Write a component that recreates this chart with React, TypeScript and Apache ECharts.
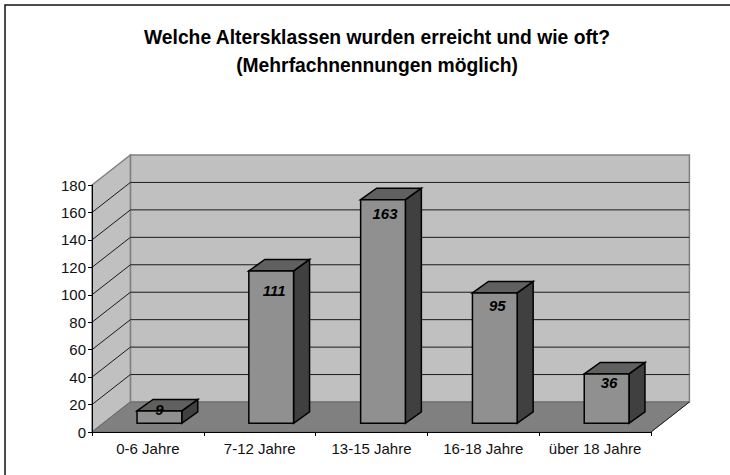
import React, { useEffect, useRef } from "react";
import * as echarts from "echarts";

const categories = ["0-6 Jahre", "7-12 Jahre", "13-15 Jahre", "16-18 Jahre", "über 18 Jahre"];
const values = [9, 111, 163, 95, 36];
const yTicks = [20, 40, 60, 80, 100, 120, 140, 160];
const titleText = "Welche Altersklassen wurden erreicht und wie oft?\n(Mehrfachnennungen möglich)";
const labelDrop = [-1, 20, 14, 13, 9];
const labelShift = [0, 3, 2, 2.5, 2.5];

const DEPTH_X = 38.4;
const DEPTH_Y = 30;
const FONT = '"Liberation Sans", Arial, sans-serif';

function polygon(points: number[][], fill: string, stroke: string, lineWidth: number) {
  return { type: "polygon", shape: { points }, style: { fill, stroke, lineWidth, lineJoin: "miter" } };
}

export default function App() {
  const ref = useRef<HTMLDivElement>(null);
  useEffect(() => {
    const chart = echarts.init(ref.current!, undefined, { renderer: "svg", width: 730, height: 475 });
    chart.setOption({
      animation: false,
      backgroundColor: "#ffffff",
      title: {
        text: titleText,
        left: 372,
        top: 18,
        textAlign: "center",
        textStyle: { fontFamily: FONT, fontSize: 19.3, fontWeight: "bold", color: "#000", lineHeight: 28 },
      },
      graphic: [
        {
          type: "polyline",
          z: 0,
          shape: { points: [[5, 475], [5, 5], [730, 5]] },
          style: { fill: "none", stroke: "#111", lineWidth: 1.5 },
        },
      ],
      grid: { left: 92, top: 185, width: 559, height: 247 },
      xAxis: {
        type: "category",
        data: categories,
        z: 10,
        axisLine: { lineStyle: { color: "#000", width: 1 } },
        axisTick: { show: true, length: 4, alignWithLabel: false, lineStyle: { color: "#000" } },
        axisLabel: { fontFamily: FONT, fontSize: 15, color: "#111", margin: 9, interval: 0 },
      },
      yAxis: {
        type: "value",
        min: 0,
        max: 180,
        interval: 20,
        z: 10,
        splitLine: { show: false },
        axisLine: { show: true, lineStyle: { color: "#000", width: 1 } },
        axisTick: { show: true, length: 4, lineStyle: { color: "#000" } },
        axisLabel: { fontFamily: FONT, fontSize: 15, color: "#111", margin: 6 },
      },
      series: [
        {
          type: "custom",
          z: 2,
          silent: true,
          data: [0],
          renderItem: (params: any) => {
            const { x, y, width, height } = params.coordSys;
            const b = y + height;
            const r = x + width;
            return {
              type: "group",
              children: [
                polygon([[x + DEPTH_X, y - DEPTH_Y], [r + DEPTH_X, y - DEPTH_Y], [r + DEPTH_X, b - DEPTH_Y], [x + DEPTH_X, b - DEPTH_Y]], "#c0c0c0", "#808080", 1.5),
                polygon([[x, y], [x + DEPTH_X, y - DEPTH_Y], [x + DEPTH_X, b - DEPTH_Y], [x, b]], "#c0c0c0", "#808080", 1.5),
              ],
            };
          },
        },
        {
          type: "custom",
          z: 3,
          silent: true,
          data: yTicks.map((t) => [0, t]),
          encode: { x: 0, y: 1 },
          renderItem: (params: any, api: any) => {
            const { x, width } = params.coordSys;
            const yy = api.coord([0, api.value(1)])[1];
            const style = { stroke: "#1a1a1a", lineWidth: 1, fill: "none" };
            return {
              type: "polyline",
              shape: { points: [[x, yy], [x + DEPTH_X, yy - DEPTH_Y], [x + width + DEPTH_X, yy - DEPTH_Y]] },
              style,
            };
          },
        },
        {
          type: "custom",
          z: 4,
          silent: true,
          data: [0],
          renderItem: (params: any) => {
            const { x, y, width, height } = params.coordSys;
            const b = y + height;
            const r = x + width;
            return {
              type: "group",
              children: [
                polygon([[x, b], [r, b], [r + DEPTH_X, b - DEPTH_Y], [x + DEPTH_X, b - DEPTH_Y]], "#808080", "#6a6a6a", 1),
                { type: "line", shape: { x1: r, y1: b, x2: r + DEPTH_X, y2: b - DEPTH_Y }, style: { stroke: "#222", lineWidth: 1 } },
              ],
            };
          },
        },
        {
          type: "custom",
          z: 5,
          data: values.map((v, i) => [i, v]),
          encode: { x: 0, y: 1 },
          renderItem: (_params: any, api: any) => {
            const i = api.value(0);
            const v = api.value(1);
            const base = api.coord([i, 0]);
            const top = api.coord([i, v]);
            const band = api.size([1, 0])[0];
            const w = band * 0.4;
            const ox = 11.5;
            const oy = 8.7;
            const dx = 16;
            const dy = 11.5;
            const l = base[0] + ox - w / 2;
            const rr = l + w;
            const bt = base[1] - oy;
            const tp = top[1] - oy;
            const cx = l + w / 2;
            return {
              type: "group",
              children: [
                polygon([[rr, tp], [rr + dx, tp - dy], [rr + dx, bt - dy], [rr, bt]], "#404040", "#000", 1.5),
                polygon([[l, tp], [l + dx, tp - dy], [rr + dx, tp - dy], [rr, tp]], "#606060", "#000", 1.5),
                polygon([[l, tp], [rr, tp], [rr, bt], [l, bt]], "#909090", "#000", 1.5),
                {
                  type: "text",
                  style: {
                    text: String(v),
                    x: cx + labelShift[i],
                    y: tp + labelDrop[i],
                    align: "center",
                    verticalAlign: "middle",
                    font: `italic bold 15px ${FONT}`,
                    fill: "#000",
                  },
                },
              ],
            };
          },
        },
      ],
    });
    return () => chart.dispose();
  }, []);
  return <div ref={ref} style={{ position: "fixed", left: 0, top: 0, width: 730, height: 475 }} />;
}
